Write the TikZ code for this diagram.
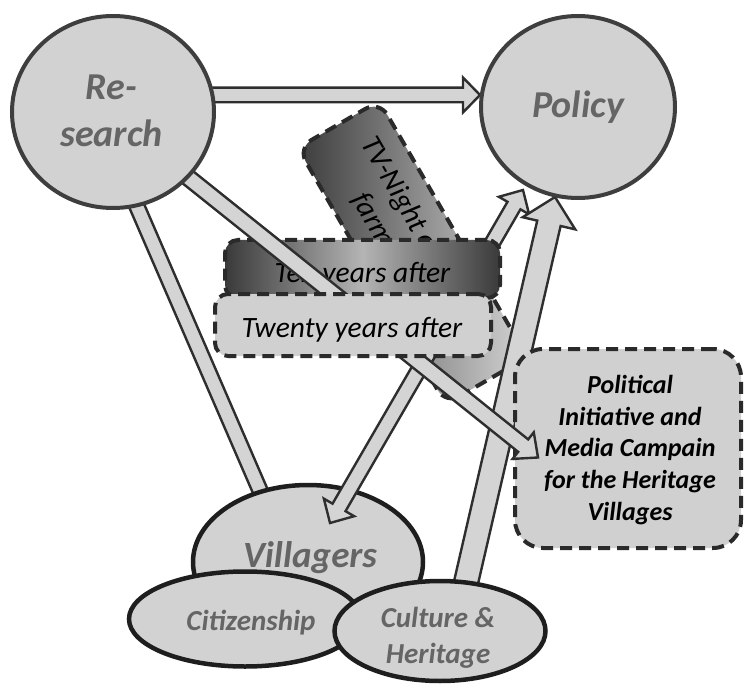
\documentclass[tikz,border=0pt]{standalone}
\usepackage{fontspec}
\setmainfont{Carlito}
\usetikzlibrary{shapes.geometric,calc}
\definecolor{circfill}{HTML}{D2D2D2}
\definecolor{circline}{HTML}{3E3E3E}
\definecolor{elline}{HTML}{1E1E1E}
\definecolor{arrfill}{HTML}{D4D4D4}
\definecolor{arrline}{HTML}{2E2E2E}
\definecolor{dashline}{HTML}{2A2A2A}
\definecolor{boxfill}{HTML}{D0D0D0}
\definecolor{graytext}{HTML}{656565}
\definecolor{shdark}{HTML}{3A3A3A}
\definecolor{shlight}{HTML}{B4B4B4}
\definecolor{tvdark}{HTML}{3C3C3C}
\definecolor{tvlight}{HTML}{D4D4D4}
\pgfdeclarelayer{l0}\pgfdeclarelayer{l1}\pgfdeclarelayer{l2}\pgfdeclarelayer{l3}
\pgfdeclarelayer{l4}\pgfdeclarelayer{l5}\pgfdeclarelayer{l6}\pgfdeclarelayer{l7}
\pgfsetlayers{l0,l1,l2,l3,l4,l5,l6,l7,main}
% bar without head: from, to, half width
\newcommand\blockbar[3]{%
  \filldraw[blockarrow] ($(#1)!#3!90:(#2)$) -- ($(#2)!#3!-90:(#1)$) -- ($(#2)!#3!90:(#1)$) -- ($(#1)!#3!-90:(#2)$) -- cycle;}
% single headed block arrow: name, from, to, shaft half width, head half width, head length
\newcommand\blockarrow[6]{%
  \coordinate (#1-q) at ($(#3)!#6!(#2)$);
  \filldraw[blockarrow] ($(#2)!#4!90:(#3)$) -- ($(#1-q)!#4!90:(#3)$) -- ($(#1-q)!#5!90:(#3)$) -- (#3)
    -- ($(#1-q)!#5!-90:(#3)$) -- ($(#1-q)!#4!-90:(#3)$) -- ($(#2)!#4!-90:(#3)$) -- cycle;}
% double headed block arrow
\newcommand\dblarrow[6]{%
  \coordinate (#1-q) at ($(#3)!#6!(#2)$);
  \coordinate (#1-p) at ($(#2)!#6!(#3)$);
  \filldraw[blockarrow] (#2) -- ($(#1-p)!#5!90:(#3)$) -- ($(#1-p)!#4!90:(#3)$) -- ($(#1-q)!#4!90:(#3)$)
    -- ($(#1-q)!#5!90:(#3)$) -- (#3) -- ($(#1-q)!#5!-90:(#3)$) -- ($(#1-q)!#4!-90:(#3)$)
    -- ($(#1-p)!#4!-90:(#3)$) -- ($(#1-p)!#5!-90:(#3)$) -- cycle;}
\begin{document}
\begin{tikzpicture}[x=1pt,y=-1pt,
  circ/.style={ellipse, draw=circline, line width=4pt, fill=circfill, inner sep=0pt, outer sep=0pt},
  ell/.style={ellipse, draw=elline, line width=4.5pt, fill=circfill, inner sep=0pt, outer sep=0pt},
  bigtxt/.style={text=graytext, font=\fontsize{38}{47}\selectfont\bfseries\itshape, inner sep=0pt, align=center},
  midtxt/.style={text=graytext, font=\fontsize{29}{36}\selectfont\bfseries\itshape, inner sep=0pt, align=center},
  dbox/.style={rectangle, rounded corners=13pt, draw=dashline, line width=4pt, dash pattern=on 12pt off 7pt, inner sep=0pt, outer sep=0pt},
  boxtxt/.style={text=black, font=\fontsize{29.5}{36}\selectfont\itshape, inner sep=0pt, align=center},
  poltxt/.style={text=black, font=\fontsize{26}{31.7}\selectfont\bfseries\itshape, inner sep=0pt, align=center},
  blockarrow/.style={fill=arrfill, draw=arrline, line width=2.4pt, line join=miter, miter limit=4},
]
\useasboundingbox (0,0) rectangle (747,687);
% ---- nodes ----
\node[circ, minimum width=202pt, minimum height=192pt] (research) at (113,112) {};
\node[bigtxt] (researcht) at (111.5,111.3) {Re-\\search};
\node[circ, minimum width=194pt, minimum height=182pt] (policy) at (578,107) {};
\node[bigtxt, anchor=base] (policyt) at (578,118) {Policy};
\begin{pgfonlayer}{l1}
\node[ell, minimum width=230pt, minimum height=154pt] (villagers) at (308,562) {};
\node[bigtxt, font=\fontsize{37}{45}\selectfont\bfseries\itshape, anchor=base] (villagerst) at (310,567) {Villagers};
\end{pgfonlayer}
\node[ell, minimum width=232pt, minimum height=95pt] (citizen) at (245,619) {};
\node[midtxt, anchor=base] (citizent) at (251,630) {Citizenship};
\node[ell, minimum width=211pt, minimum height=100pt] (culture) at (440,631) {};
\node[midtxt] (culturet) at (438,637.5) {Culture \&\\Heritage};
\begin{pgfonlayer}{l2}
\node[dbox, rotate=-60, minimum width=296pt, minimum height=94pt, rounded corners=16pt,
      left color=tvdark, right color=tvlight] (tv) at (412.5,252.5) {};
\node[boxtxt, rotate=-60] (tvt) at (397.5,226.5) {TV-Night of the\\farmers};
\end{pgfonlayer}
\begin{pgfonlayer}{l5}
\node[dbox, minimum width=275pt, minimum height=58pt, left color=shdark, right color=shdark, middle color=shlight] (ten) at (362.5,269) {};
\node[boxtxt, anchor=base] (tent) at (362.5,282) {Ten years after};
\node[dbox, minimum width=226pt, minimum height=199pt, rounded corners=28pt, fill=boxfill] (political) at (628,448.5) {};
\node[poltxt] (politicalt) at (630,449.8) {Political\\Initiative and\\Media Campain\\for the Heritage\\Villages};
\end{pgfonlayer}
\begin{pgfonlayer}{l7}
\node[dbox, minimum width=276pt, minimum height=62pt, fill=boxfill] (twenty) at (353,325) {};
\node[boxtxt, anchor=base] (twentyt) at (352,337) {Twenty years after};
\end{pgfonlayer}
% ---- connector end points ----
\coordinate (rp-a) at ([shift={(77,-17)}]research.center);
\coordinate (rp-b) at ([shift={(-98,-12)}]policy.center);
\coordinate (rv-a) at ([shift={(16,76)}]research.center);
\coordinate (rv-b) at ([shift={(-40,-53)}]villagers.center);
\coordinate (rc-a) at ([shift={(62,55)}]research.center);
\coordinate (rc-b) at ([shift={(-90,9)}]political.center);
\coordinate (vp-a) at ([shift={(22,-39)}]villagers.center);
\coordinate (vp-b) at ([shift={(-55,83)}]policy.center);
\coordinate (cp-a) at ([shift={(22,-31)}]culture.center);
\coordinate (cp-b) at ([shift={(-23,90)}]policy.center);
% ---- connectors ----
\begin{pgfonlayer}{l0}
\blockbar{rv-a}{rv-b}{7.5pt}
\end{pgfonlayer}
\begin{pgfonlayer}{l2}
\blockarrow{rp}{rp-a}{rp-b}{7.3pt}{17.5pt}{17pt}
\end{pgfonlayer}
\begin{pgfonlayer}{l3}
\dblarrow{vp}{vp-a}{vp-b}{7.5pt}{17.5pt}{18pt}
\end{pgfonlayer}
\begin{pgfonlayer}{l4}
\blockarrow{cp}{cp-a}{cp-b}{12pt}{27pt}{27pt}
\end{pgfonlayer}
\begin{pgfonlayer}{l6}
\blockarrow{rc}{rc-a}{rc-b}{8pt}{17pt}{19pt}
\end{pgfonlayer}
\end{tikzpicture}
\end{document}
